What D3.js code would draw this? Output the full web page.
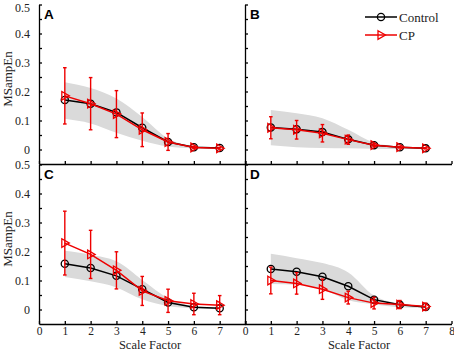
<!DOCTYPE html>
<html><head><meta charset="utf-8">
<script src="https://cdn.jsdelivr.net/npm/d3@7"></script>
<style>
html,body{margin:0;padding:0;background:#fff;}
svg{display:block;font-family:"Liberation Serif","Times New Roman",serif;}
</style></head>
<body><svg id="c" width="454" height="350"></svg>
<script>
// ---- data ----
const scaleFactors = [1, 2, 3, 4, 5, 6, 7];
const panelLabels = ["A", "B", "C", "D"];
const seriesNames = ["Control", "CP"];
const yTickValues = [0, 0.05, 0.1, 0.15, 0.2, 0.25, 0.3, 0.35, 0.4, 0.45, 0.5];
const xTickValues = [0, 1, 2, 3, 4, 5, 6, 7, 8];

const controlA     = [0.171, 0.158, 0.128, 0.075, 0.026, 0.008, 0.005];
const controlALow  = [0.106, 0.090, 0.058, 0.030, 0.010, 0.004, 0.003];
const controlAHigh = [0.232, 0.212, 0.176, 0.112, 0.038, 0.012, 0.006];
const cpA          = [0.185, 0.158, 0.122, 0.068, 0.026, 0.007, 0.004];
const cpAErr       = [0.097, 0.090, 0.081, 0.058, 0.029, 0.004, 0.003];

const controlB     = [0.076, 0.070, 0.060, 0.035, 0.015, 0.008, 0.004];
const controlBLow  = [0.015, 0.008, 0.005, 0.004, 0.003, 0.002, 0.002];
const controlBHigh = [0.136, 0.125, 0.108, 0.068, 0.024, 0.010, 0.005];
const cpB          = [0.075, 0.068, 0.056, 0.034, 0.015, 0.008, 0.004];
const cpBErr       = [0.038, 0.032, 0.030, 0.016, 0.005, 0.003, 0.002];

const controlC     = [0.158, 0.143, 0.116, 0.070, 0.024, 0.008, 0.004];
const controlCLow  = [0.112, 0.097, 0.076, 0.035, 0.012, 0.004, 0.002];
const controlCHigh = [0.203, 0.189, 0.166, 0.102, 0.040, 0.012, 0.006];
const cpC          = [0.229, 0.190, 0.135, 0.064, 0.030, 0.019, 0.015];
const cpCErr       = [0.110, 0.083, 0.064, 0.050, 0.040, 0.037, 0.033];

const controlD     = [0.140, 0.130, 0.113, 0.080, 0.034, 0.016, 0.009];
const controlDLow  = [0.088, 0.085, 0.070, 0.032, 0.018, 0.008, 0.006];
const controlDHigh = [0.192, 0.177, 0.160, 0.128, 0.048, 0.020, 0.012];
const cpD          = [0.100, 0.090, 0.070, 0.041, 0.022, 0.017, 0.010];
const cpDErr       = [0.046, 0.037, 0.035, 0.022, 0.020, 0.014, 0.012];

const panelData = [
  {label: panelLabels[0], control: controlA, low: controlALow, high: controlAHigh, cp: cpA, err: cpAErr},
  {label: panelLabels[1], control: controlB, low: controlBLow, high: controlBHigh, cp: cpB, err: cpBErr},
  {label: panelLabels[2], control: controlC, low: controlCLow, high: controlCHigh, cp: cpC, err: cpCErr},
  {label: panelLabels[3], control: controlD, low: controlDLow, high: controlDHigh, cp: cpD, err: cpDErr}
];

// ---- layout ----
const SERIF = '"Liberation Serif","Times New Roman",serif';
const svg = d3.select("#c");
const RED = "#ee0000";
const colX = [[39, 245.5], [245, 451.5]];
const rowY = [[164, 4.5], [324, 164.5]];
const fmt = v => (Math.abs(v * 10 - Math.round(v * 10)) < 1e-6) ? (v === 0 ? "0" : d3.format(".1f")(v)) : "";

panelData.forEach((p, i) => {
  const col = i % 2, row = Math.floor(i / 2);
  const x = d3.scaleLinear().domain([0, 8]).range(colX[col]);
  const y = d3.scaleLinear().domain([-0.05, 0.5]).range(rowY[row]);
  const g = svg.append("g");

  // band
  const pts = scaleFactors.map((s, k) => ({s, lo: p.low[k], hi: p.high[k]}));
  g.append("path").datum(pts)
    .attr("fill", "#dadada")
    .attr("d", d3.area().x(d => x(d.s)).y0(d => y(d.lo)).y1(d => y(d.hi)).curve(d3.curveMonotoneX));

  // axes
  const ya = d3.axisLeft(y).tickValues(yTickValues).tickSize(-3).tickSizeOuter(0).tickPadding(9)
    .tickFormat(col === 0 ? fmt : () => "");
  const yg = g.append("g").attr("transform", `translate(${colX[col][0]},0)`).call(ya);
  yg.selectAll(".tick text").filter(d => d === 0.5 && row === 0).attr("dy", "0.55em");
  const xa = d3.axisBottom(x).tickValues(xTickValues).tickSize(-3).tickSizeOuter(0).tickPadding(3)
    .tickFormat(d => (row === 1 && !(col === 0 && d === 8)) ? d : "");
  const xg = g.append("g").attr("transform", `translate(0,${rowY[row][0]})`).call(xa);
  [yg, xg].forEach(a => {
    a.attr("font-family", SERIF);
    a.selectAll("path,line").attr("stroke", "#000").attr("stroke-width", 1.3);
    a.selectAll("text").attr("font-family", SERIF).attr("font-size", 12).attr("fill", "#222");
  });
  xg.selectAll("text").attr("font-size", 11.5);

  // control line
  const cData = scaleFactors.map((s, k) => ({s, v: p.control[k]}));
  const pData = scaleFactors.map((s, k) => ({s, v: p.cp[k], e: p.err[k]}));
  const line = d3.line().x(d => x(d.s)).y(d => y(d.v));

  g.append("path").datum(cData).attr("fill", "none").attr("stroke", "#000").attr("stroke-width", 1.5).attr("d", line);
  g.selectAll(".circ").data(cData).join("circle")
    .attr("cx", d => x(d.s)).attr("cy", d => y(d.v)).attr("r", 3.6)
    .attr("fill", "none").attr("stroke", "#000").attr("stroke-width", 1.3);

  // CP error bars
  const eb = g.selectAll(".eb").data(pData).join("g");
  eb.append("line").attr("x1", d => x(d.s)).attr("x2", d => x(d.s))
    .attr("y1", d => y(d.v - d.e)).attr("y2", d => y(d.v + d.e))
    .attr("stroke", RED).attr("stroke-width", 1.4);
  [-1, 1].forEach(sg => {
    eb.append("line").attr("x1", d => x(d.s) - 1.8).attr("x2", d => x(d.s) + 1.8)
      .attr("y1", d => y(d.v + sg * d.e)).attr("y2", d => y(d.v + sg * d.e))
      .attr("stroke", RED).attr("stroke-width", 1.4);
  });
  g.append("path").datum(pData).attr("fill", "none").attr("stroke", RED).attr("stroke-width", 1.5).attr("d", line);
  g.selectAll(".tri").data(pData).join("path")
    .attr("d", d => { const cx = x(d.s), cy = y(d.v); return `M${cx-3},${cy-4.3}L${cx+4.5},${cy}L${cx-3},${cy+4.3}Z`; })
    .attr("fill", "none").attr("stroke", RED).attr("stroke-width", 1.3);

  // panel letter
  svg.append("text").attr("x", colX[col][0] + 5).attr("y", rowY[row][1] + 14)
    .attr("font-family", '"Liberation Sans",Arial,sans-serif').attr("font-weight", "bold")
    .attr("font-size", 13.5).text(p.label);
});

// y titles
[79, 239].forEach(cy => {
  svg.append("text").attr("transform", `translate(12,${cy}) rotate(-90)`)
    .attr("font-family", SERIF)
    .attr("text-anchor", "middle").attr("font-size", 13).attr("fill", "#222").text("MSampEn");
});
// x titles
[150, 359].forEach(cx => {
  svg.append("text").attr("x", cx).attr("y", 348.5).attr("text-anchor", "middle")
    .attr("font-family", SERIF)
    .attr("font-size", 12.5).attr("fill", "#222").text("Scale Factor");
});

// legend
const leg = svg.append("g");
[[17, "#000", "circle"], [35, RED, "tri"]].forEach(([ly, c, m], k) => {
  leg.append("line").attr("x1", 365).attr("x2", 397).attr("y1", ly).attr("y2", ly)
    .attr("stroke", c).attr("stroke-width", 1.5);
  if (m === "circle") {
    leg.append("circle").attr("cx", 381).attr("cy", ly).attr("r", 3.6)
      .attr("fill", "none").attr("stroke", c).attr("stroke-width", 1.3);
  } else {
    leg.append("path").attr("d", `M${378},${ly-4.3}L${385.5},${ly}L${378},${ly+4.3}Z`)
      .attr("fill", "none").attr("stroke", c).attr("stroke-width", 1.3);
  }
  leg.append("text").attr("x", 399).attr("y", ly + 4.5).attr("font-size", 13).attr("fill", "#222")
    .attr("font-family", SERIF).text(seriesNames[k]);
});
</script></body></html>
